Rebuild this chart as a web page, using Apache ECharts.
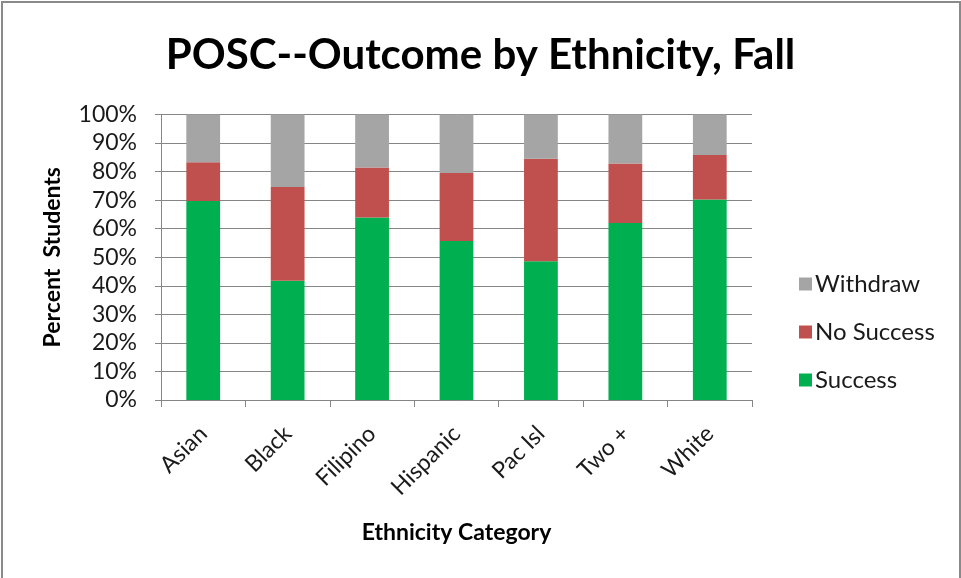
<!DOCTYPE html>
<html>
<head>
<meta charset="utf-8">
<script src="https://cdn.jsdelivr.net/npm/echarts@6/dist/echarts.min.js"></script>
<style>
  html, body { margin: 0; padding: 0; background: #fff; overflow: hidden; }
  #frame { position: absolute; left: 1px; top: 1px; width: 960px; height: 600px; border: 2px solid #8a8a8a; box-sizing: border-box; }
  #chart { position: absolute; left: 0; top: 0; width: 961px; height: 578px; }
</style>
</head>
<body>
<div id="frame"></div>
<div id="chart"></div>
<script>
// Outcome shares (percent of students) per ethnicity category
const categories = ['Asian', 'Black', 'Filipino', 'Hispanic', 'Pac Isl', 'Two +', 'White'];
const success    = [69.7, 41.8, 63.9, 55.7, 48.6, 62.0, 70.2];
const noSuccess  = [13.6, 32.8, 17.5, 23.8, 35.9, 20.8, 15.6];
const withdraw   = [16.7, 25.4, 18.6, 20.5, 15.5, 17.2, 14.2];

const FONT = 'Lato, "Open Sans", "Noto Sans", sans-serif';
const chart = echarts.init(document.getElementById('chart'), null, { renderer: 'canvas' });

const barSeries = (name, data, color) => ({
  name, type: 'bar', stack: 'total', data,
  barWidth: '40%',
  itemStyle: { color },
  emphasis: { disabled: true }
});

chart.setOption({
  animation: false,
  textStyle: { fontFamily: FONT },
  title: {
    text: 'POSC--Outcome by Ethnicity, Fall',
    left: 'center', top: 29,
    textStyle: { fontFamily: FONT, fontSize: 42, fontWeight: 'bold', color: '#000' }
  },
  legend: {
    data: ['Withdraw', 'No Success', 'Success'],
    orient: 'vertical',
    left: 794, top: 267,
    itemGap: 24,
    itemWidth: 13, itemHeight: 13,
    icon: 'rect',
    textStyle: { fontFamily: FONT, fontSize: 24, color: '#1a1a1a', padding: [0, 0, 0, -2] }
  },
  grid: { left: 161, right: 209, top: 114.5, bottom: 178, containLabel: false },
  xAxis: {
    type: 'category',
    data: categories,
    name: 'Ethnicity Category',
    nameLocation: 'middle',
    nameGap: 121,
    nameTextStyle: { fontFamily: FONT, fontSize: 23, fontWeight: 'bold', color: '#000' },
    axisLine: { lineStyle: { color: '#868686', width: 1 } },
    axisTick: { show: true, length: 7, lineStyle: { color: '#868686' } },
    axisLabel: { rotate: 45, fontSize: 23, color: '#1a1a1a', margin: 30, fontFamily: FONT }
  },
  yAxis: {
    type: 'value',
    min: 0, max: 100, interval: 10,
    name: 'Percent  Students',
    nameLocation: 'middle',
    nameGap: 97,
    nameRotate: 90,
    nameTextStyle: { fontFamily: FONT, fontSize: 23, fontWeight: 'bold', color: '#000' },
    axisLine: { show: true, lineStyle: { color: '#868686', width: 1 } },
    axisTick: { show: true, inside: false, length: 6, lineStyle: { color: '#868686' } },
    splitLine: { lineStyle: { color: '#868686', width: 1 } },
    axisLabel: { formatter: '{value}%', fontSize: 23, color: '#1a1a1a', margin: 24, fontFamily: FONT }
  },
  series: [
    barSeries('Success', success, '#00b050'),
    barSeries('No Success', noSuccess, '#c0504d'),
    barSeries('Withdraw', withdraw, '#a5a5a5')
  ]
});
</script>
</body>
</html>
